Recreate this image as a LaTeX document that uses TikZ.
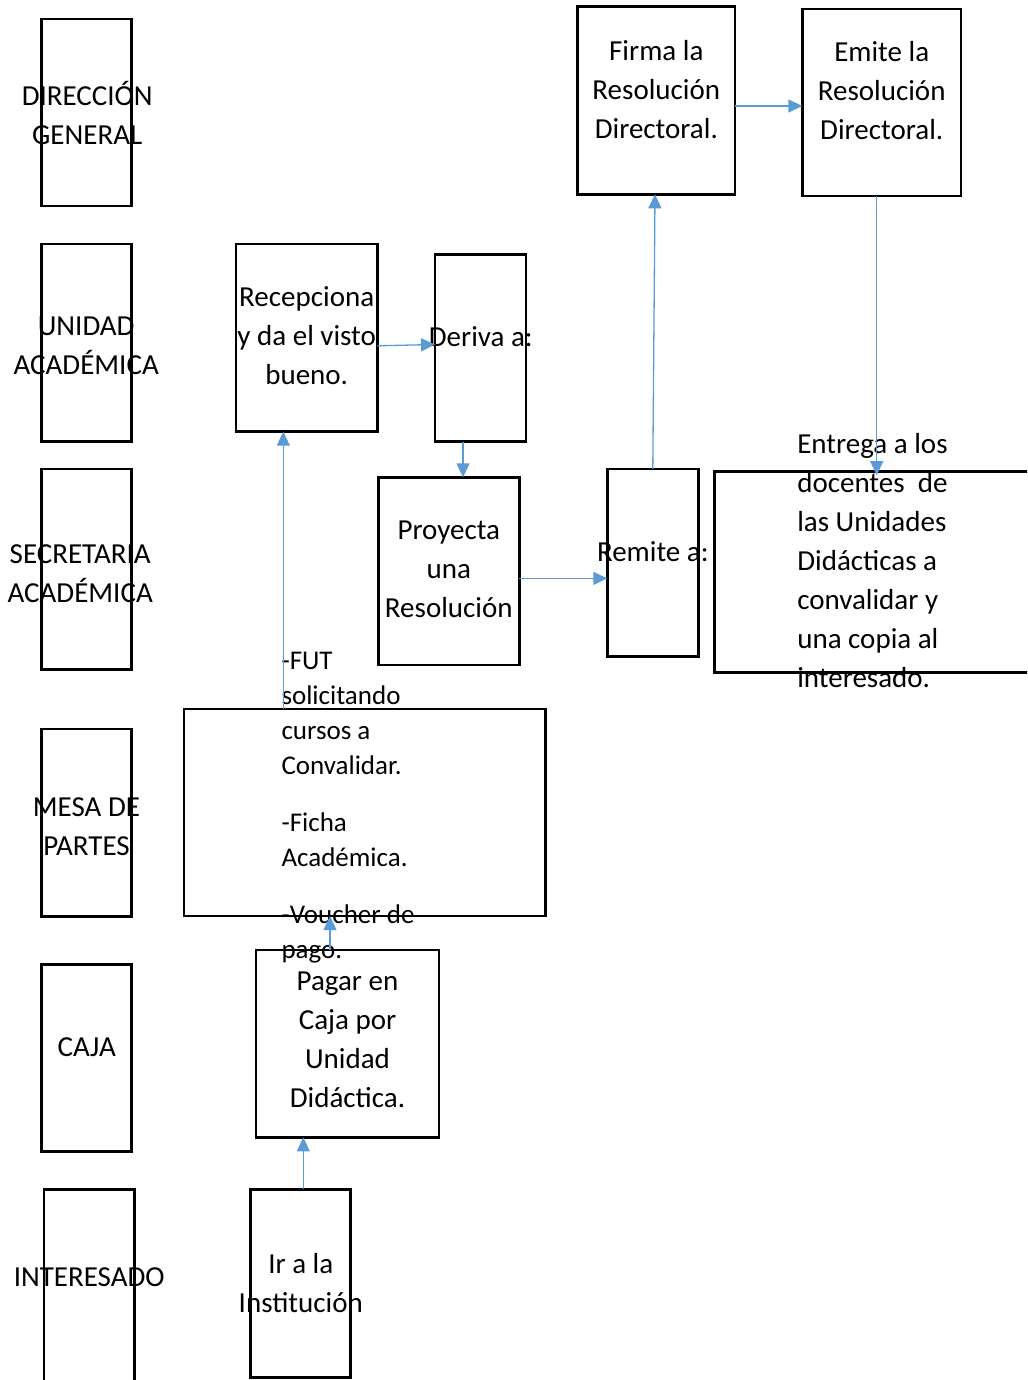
\documentclass[tikz,border=0pt]{standalone}
\usepackage{fontspec}
\setmainfont{Carlito}
\usetikzlibrary{arrows.meta}
\definecolor{flowblue}{HTML}{5B9BD5}
\tikzset{
  box/.style={draw=black, line width=2.6pt, inner sep=0pt, outer sep=0pt},
  % multi-line labels are placed by the baseline of their last line
  lbl/.style={font=\fontsize{29}{39}\selectfont, align=center, inner sep=0pt, outer sep=0pt, anchor=base},
  lbll/.style={font=\fontsize{29}{39}\selectfont, align=left, inner sep=0pt, outer sep=0pt, anchor=base west},
  flow/.style={draw=flowblue, line width=1.3pt, -{Triangle[length=14pt,width=13pt]}}
}
\begin{document}
\begin{tikzpicture}[x=1pt,y=-1pt]
\useasboundingbox (0,0) rectangle (1027,1380);
\clip (0,0) rectangle (1027,1380);

% swimlane headers
\node[box, minimum width=90pt, minimum height=187pt] (dg) at (86.7,112.5) {};
\node[box, minimum width=90pt, minimum height=197.7pt] (ua) at (86.7,342.8) {};
\node[box, minimum width=90pt, minimum height=200.3pt] (sa) at (86.7,569.2) {};
\node[box, minimum width=90pt, minimum height=187.7pt] (mp) at (86.7,822.8) {};
\node[box, minimum width=90pt, minimum height=187.4pt] (cj) at (86.7,1058) {};
\node[box, minimum width=90.3pt, minimum height=211pt] (in) at (89.2,1294.8) {};

\node[lbl] (dg-t) at (87.2,145) {DIRECCIÓN\\GENERAL};
\node[lbl] (ua-t) at (86.2,374) {UNIDAD\\ACADÉMICA};
\node[lbl] (sa-t) at (80.2,602.3) {SECRETARIA\\ACADÉMICA};
\node[lbl] (mp-t) at (86.5,855) {MESA DE\\PARTES};
\node[lbl] (cj-t) at (86.7,1056.5) {CAJA};
\node[lbl] (in-t) at (89.2,1286.5) {INTERESADO};

% process boxes
\node[box, minimum width=157.7pt, minimum height=187.6pt] (firma) at (656.2,100.5) {};
\node[box, minimum width=158.7pt, minimum height=187pt] (emite) at (881.7,102.5) {};
\node[box, minimum width=141.3pt, minimum height=187.7pt] (recep) at (306.7,337.8) {};
\node[box, minimum width=91pt, minimum height=187.4pt] (deriva) at (480.5,348) {};
\node[box, minimum width=141pt, minimum height=187.7pt] (proy) at (448.8,571.2) {};
\node[box, minimum width=91pt, minimum height=187.7pt] (remite) at (652.8,562.8) {};
\node[box, minimum width=330pt, minimum height=200.6pt] (entrega) at (879.3,572) {};
\node[box, minimum width=361.7pt, minimum height=207pt] (mesa) at (364.8,812.5) {};
\node[box, minimum width=183pt, minimum height=187.3pt] (pagar) at (347.5,1043.7) {};
\node[box, minimum width=100pt, minimum height=188.4pt] (ir) at (300.7,1283.5) {};

\node[lbl] (firma-t) at (656.3,139) {Firma la\\Resolución\\Directoral.};
\node[lbl] (emite-t) at (881.7,140) {Emite la\\Resolución\\Directoral.};
\node[lbl] (recep-t) at (306.7,384.5) {Recepciona\\y da el visto\\bueno.};
\node[lbl] (deriva-t) at (480.8,346.5) {Deriva a:};
\node[lbl] (proy-t) at (448.8,617) {Proyecta\\una\\Resolución};
\node[lbl] (remite-t) at (652.8,561.2) {Remite a:};
\node[lbll] (entrega-t) at (797.3,687.5) {Entrega a los\\docentes\ \ de\\las Unidades\\Didácticas a\\convalidar y\\una copia al\\interesado.};
\node[lbll, font=\fontsize{27}{35}\selectfont] (mesa-t) at (281.5,958.5)
  {-FUT\\solicitando\\cursos a\\Convalidar.\\[22pt]-Ficha\\Académica.\\[22pt]-Voucher de\\pago.};
\node[lbl] (pagar-t) at (347.5,1107.5) {Pagar en\\Caja por\\Unidad\\Didáctica.};
\node[lbl] (ir-t) at (300.8,1312) {Ir a la\\Institución};

% connectors
\draw[flow] ([yshift=-8pt]recep.east) -- ([yshift=3.5pt]deriva.west);
\draw[flow] ([xshift=-17.5pt]deriva.south) -- ([xshift=-17.5pt]deriva.south |- proy.north);
\draw[flow] ([yshift=-7.2pt]proy.east) -- ([yshift=-7.2pt]proy.east -| remite.west);
\draw[flow] (remite.north) -- ([xshift=-1.2pt]firma.south);
\draw[flow] ([yshift=-5.5pt]firma.east) -- ([yshift=-5.5pt]firma.east -| emite.west);
\draw[flow] ([xshift=-5pt]emite.south) -- ([xshift=-5pt,yshift=-3.5pt]emite.south |- entrega.north);
\draw[flow] ([xshift=-23.4pt]recep.south |- mesa.north) -- ([xshift=-23.4pt]recep.south);
\draw[flow] ([xshift=-17.5pt]pagar.north) -- ([xshift=-17.5pt]pagar.north |- mesa.south);
\draw[flow] ([xshift=2.6pt]ir.north) -- ([xshift=2.6pt]ir.north |- pagar.south);
\end{tikzpicture}
\end{document}
